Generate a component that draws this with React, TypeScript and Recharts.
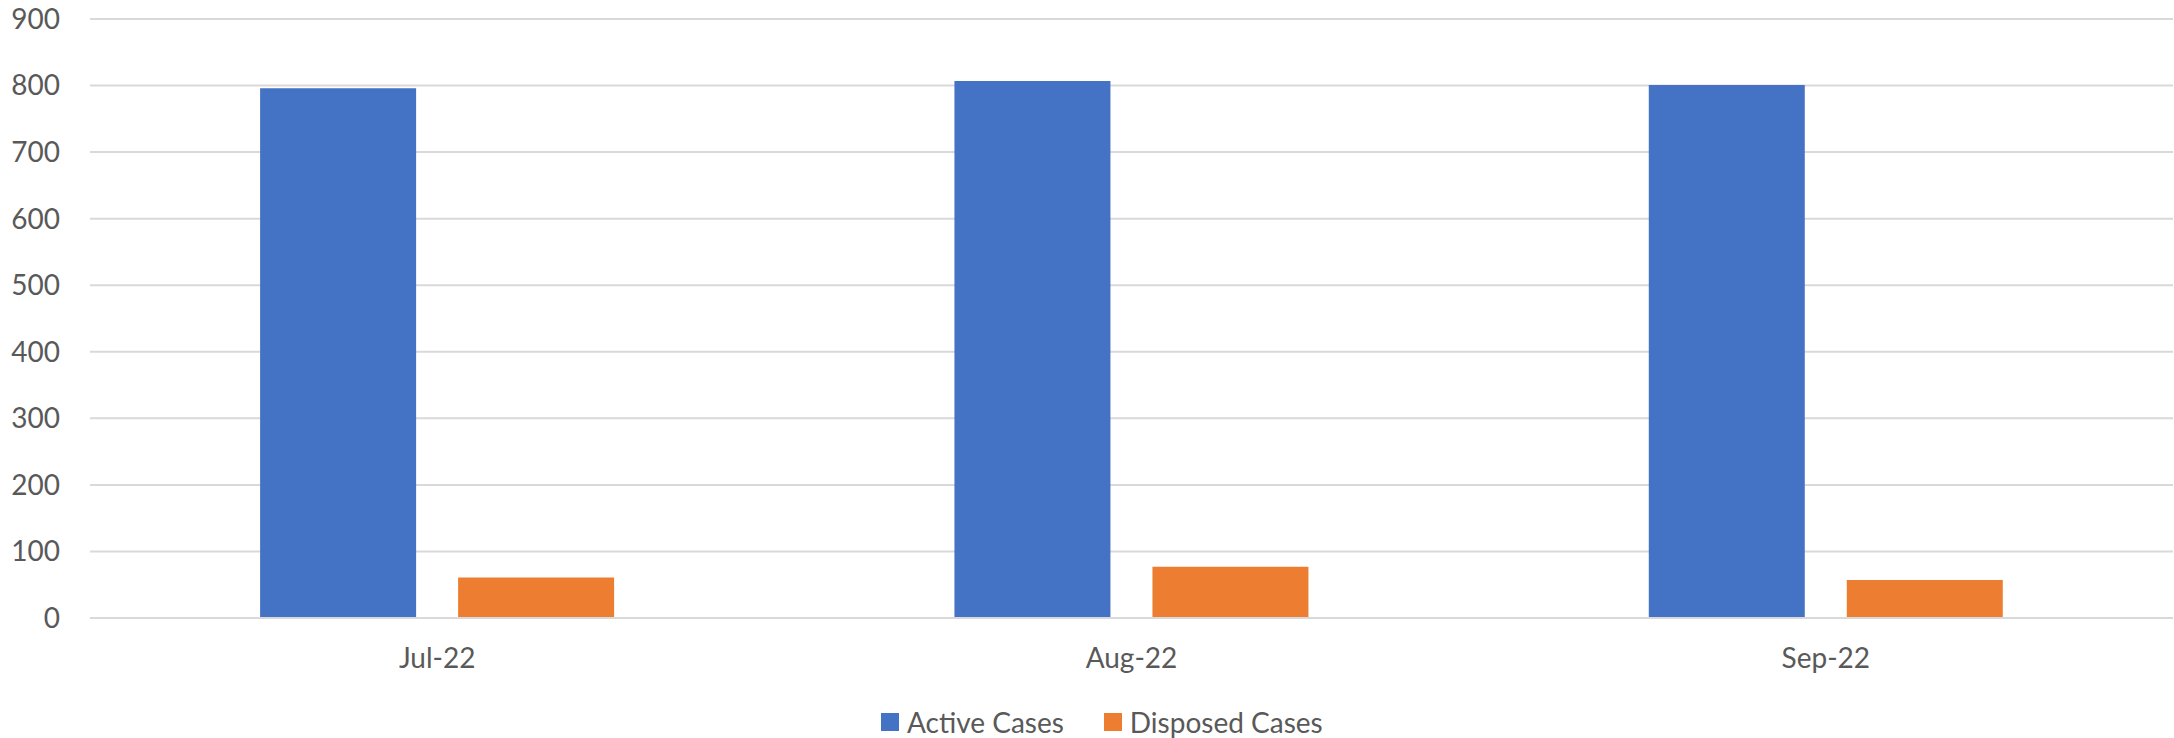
import { Bar, BarChart, CartesianGrid, Legend, XAxis, YAxis } from "recharts";

const MONTHS = ["Jul-22", "Aug-22", "Sep-22"];
const ACTIVE = [796, 807, 801];
const DISPOSED = [61, 77, 57];
const Y_TICKS = [0, 100, 200, 300, 400, 500, 600, 700, 800, 900];

const SERIES = [
  { key: "active", name: "Active Cases", color: "#4472C4" },
  { key: "disposed", name: "Disposed Cases", color: "#ED7D31" },
] as const;

const FONT = "Lato, 'Open Sans', sans-serif";
const TEXT = "#595959";
const GRID = "#d9d9d9";

function LegendBox() {
  return (
    <div style={{ display: "flex", alignItems: "center", fontFamily: FONT, fontSize: 28, color: TEXT }}>
      {SERIES.map((s, i) => (
        <div key={s.key} style={{ display: "flex", alignItems: "center", marginLeft: i ? 40 : 0 }}>
          <span style={{ width: 18, height: 18, background: s.color, display: "inline-block", marginRight: 8 }} />
          <span style={{ lineHeight: "28px" }}>{s.name}</span>
        </div>
      ))}
    </div>
  );
}

export default function App() {
  const data = MONTHS.map((m, i) => ({ month: m, active: ACTIVE[i], disposed: DISPOSED[i] }));

  return (
    <div style={{ position: "absolute", left: 0, top: 0, background: "#fff" }}>
      <BarChart
        width={2174}
        height={738}
        data={data}
        margin={{ top: 19, right: 1, left: 0, bottom: 90 }}
        barCategoryGap="24.5%"
        barGap={42}
      >
        <CartesianGrid stroke={GRID} strokeWidth={2} vertical={false} />
        <XAxis
          dataKey="month"
          height={30}
          tick={{ fill: TEXT, fontSize: 28, fontFamily: FONT }}
          tickLine={false}
          tickSize={0}
          tickMargin={30}
          axisLine={{ stroke: GRID, strokeWidth: 2 }}
        />
        <YAxis
          domain={[0, 900]}
          ticks={Y_TICKS}
          width={90}
          tick={{ fill: TEXT, fontSize: 28, fontFamily: FONT }}
          tickLine={false}
          tickSize={0}
          tickMargin={30}
          axisLine={false}
        />
        <Legend
          layout="horizontal"
          verticalAlign="middle"
          align="center"
          content={() => <LegendBox />}
          wrapperStyle={{ left: 881, top: 708, width: "auto", height: "auto" }}
        />
        {SERIES.map((s) => (
          <Bar key={s.key} dataKey={s.key} name={s.name} fill={s.color} isAnimationActive={false} />
        ))}
      </BarChart>
    </div>
  );
}
